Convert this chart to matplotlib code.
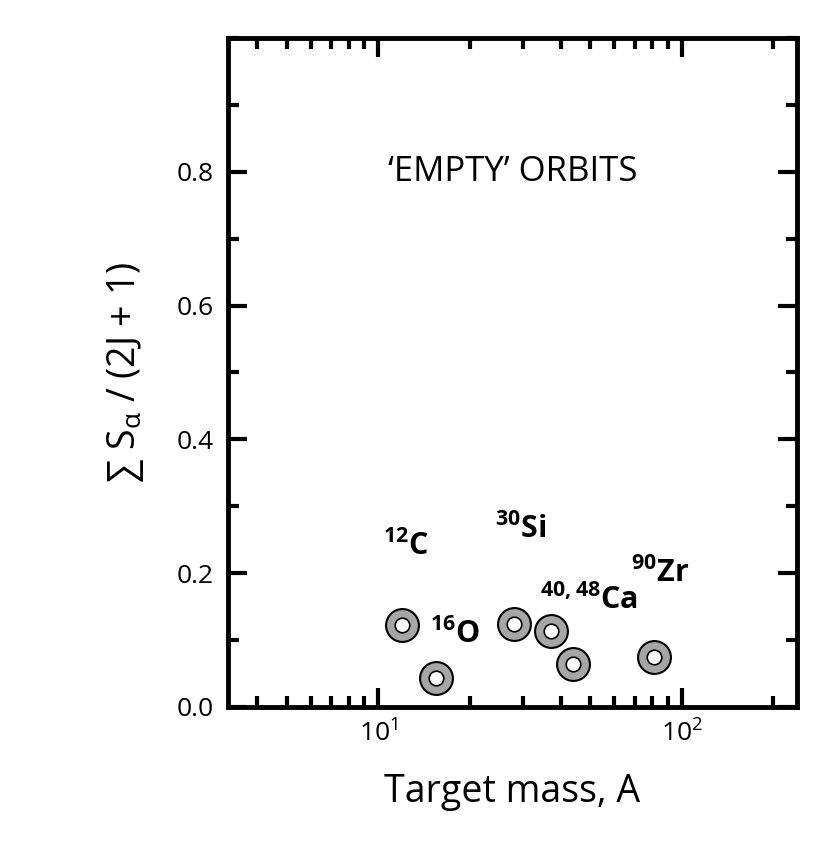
import matplotlib
matplotlib.use("Agg")
import matplotlib.pyplot as plt
from matplotlib.ticker import MultipleLocator, LogLocator, NullFormatter

plt.rcParams['font.family'] = ['Open Sans', 'DejaVu Sans']
plt.rcParams['mathtext.fontset'] = 'custom'
plt.rcParams['mathtext.rm'] = 'Open Sans'
plt.rcParams['mathtext.bf'] = 'Open Sans:bold'

# values
mass = [12, 15.5, 28, 37, 44, 81]
strength = [0.122, 0.043, 0.124, 0.113, 0.065, 0.074]
labels = [(12.3, 0.24, r'$^{\mathbf{12}}$C'), (17.9, 0.108, r'$^{\mathbf{16}}$O'),
          (29.4, 0.265, r'$^{\mathbf{30}}$Si'), (49.3, 0.16, r'$^{\mathbf{40,48}}$Ca'),
          (85, 0.20, r'$^{\mathbf{90}}$Zr')]

fig = plt.figure(figsize=(8.26, 8.43), dpi=100)
ax = fig.add_axes([228/826, 136/843, 569/826, 669/843])
ax.set_xscale('log')
ax.set_xlim(3.2, 240)
ax.set_ylim(0, 1.0)

ax.scatter(mass, strength, s=560, c='#a6a6a6', edgecolors='black', linewidths=1.5, zorder=3)
ax.scatter(mass, strength, s=110, c='white', edgecolors='black', linewidths=1.2, zorder=4)

for x, y, t in labels:
    ax.text(x, y, t, fontsize=22, fontweight='bold', ha='center', va='center')
ax.text(0.5, 0.8, '\u2018EMPTY\u2019 ORBITS', transform=ax.transAxes, fontsize=25,
        ha='center', va='center')

ax.set_yticks([0.0, 0.2, 0.4, 0.6, 0.8])
ax.set_yticklabels(['0.0', '0.2', '0.4', '0.6', '0.8'])
ax.yaxis.set_minor_locator(MultipleLocator(0.1))
ax.xaxis.set_major_locator(LogLocator(base=10))
ax.xaxis.set_minor_locator(LogLocator(base=10, subs=range(2, 10)))
ax.xaxis.set_minor_formatter(NullFormatter())
ax.tick_params(which='both', direction='in', top=True, right=True, width=3, labelsize=19, pad=10)
ax.tick_params(which='major', length=14)
ax.tick_params(which='minor', length=8)
for s in ax.spines.values():
    s.set_linewidth(3.5)

ax.set_xlabel('Target mass, A', fontsize=27, labelpad=18)
ax.set_ylabel(r'$\sum$ S$_{\mathrm{\alpha}}$ / (2J + 1)', fontsize=27, labelpad=22)

fig.savefig('out.png', dpi=100)
